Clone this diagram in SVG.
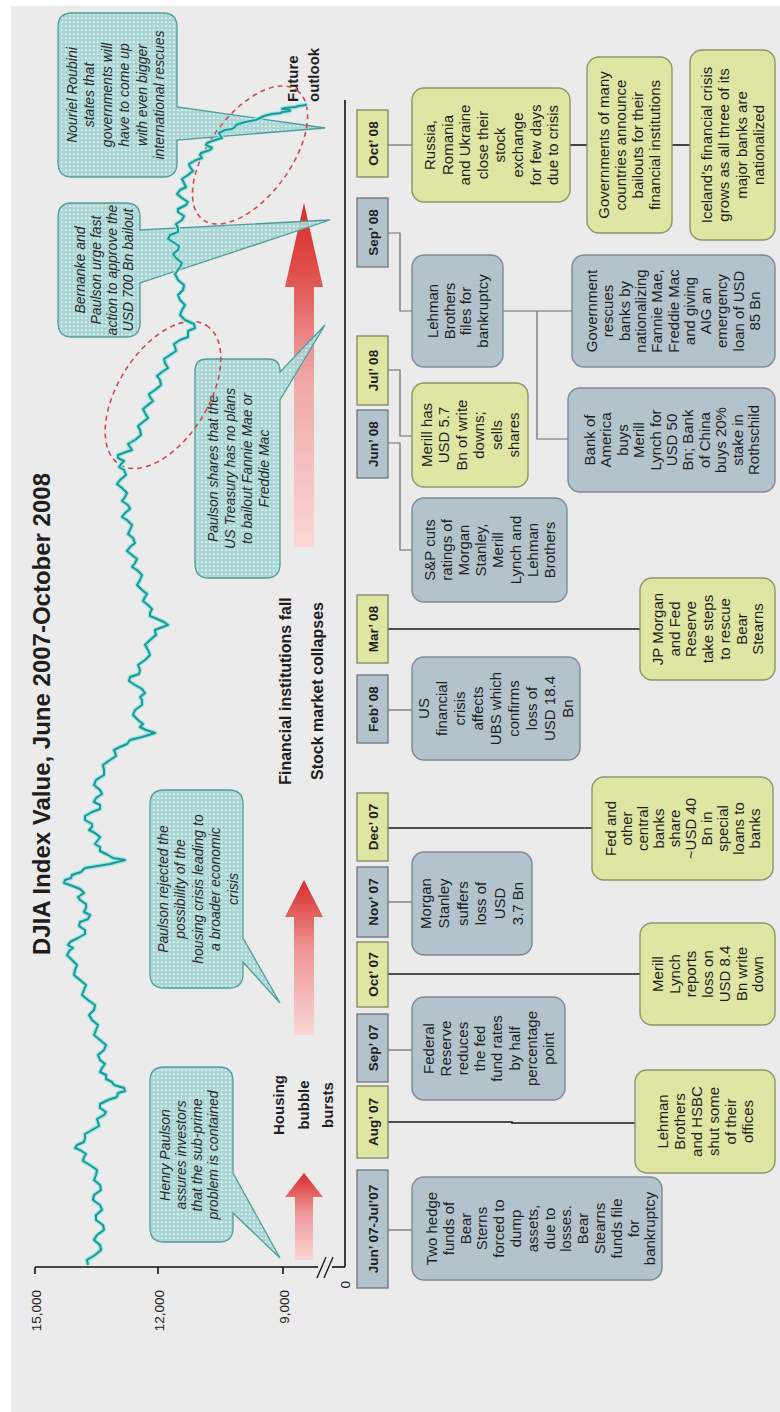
<svg xmlns="http://www.w3.org/2000/svg" width="780" height="1412" viewBox="0 0 780 1412">
<defs>
<style>
.bg{fill:#ebebeb}
.mbl{fill:#b3c3cd;stroke:#6d757a;stroke-width:1.3}
.myl{fill:#dfe6a4;stroke:#7d8560;stroke-width:1.3}
.blue{fill:#b3c3cd;stroke:#7d8a92;stroke-width:1.4}
.yel{fill:#dfe6a4;stroke:#8c9668;stroke-width:1.4}
text{font-family:"Liberation Sans",Arial,sans-serif;fill:#1e1e1e}
.t{font-size:15px;text-anchor:middle}
.m{font-size:13.5px;font-weight:bold;text-anchor:middle}
.c{font-size:14px;font-style:italic;text-anchor:middle;fill:#2a2a2a}
.lab{font-size:15px;font-weight:bold;text-anchor:middle}
.tick{font-size:13.5px;text-anchor:end;fill:#222}
.thin{stroke:#6a6a6a;stroke-width:1.2;fill:none}
.dark{stroke:#1a1a1a;stroke-width:1.6;fill:none}
.call{fill:url(#dots);stroke:#4f9d9b;stroke-width:1.3;fill-opacity:0.9}
.ell{fill:none;stroke:#d24a4a;stroke-width:1.6;stroke-dasharray:5 4}
.axis{stroke:#111;stroke-width:1.6;fill:none}
</style>
<pattern id="dots" width="4" height="4" patternUnits="userSpaceOnUse">
<rect width="4" height="4" fill="#a3d5d4"/>
<rect x="1" y="1" width="1.6" height="1.6" fill="#e6f5f4"/>
</pattern>
<linearGradient id="ar1" x1="0" y1="0" x2="1" y2="0">
<stop offset="0" stop-color="#fbd6d6"/>
<stop offset="0.55" stop-color="#ee9696"/>
<stop offset="1" stop-color="#d62c2a"/>
</linearGradient>
<linearGradient id="ar3" x1="0" y1="0" x2="1" y2="0">
<stop offset="0" stop-color="#fbd6d6"/>
<stop offset="0.5" stop-color="#f0a6a6"/>
<stop offset="0.8" stop-color="#e04e4c"/>
<stop offset="1" stop-color="#d62c2a"/>
</linearGradient>
</defs>
<rect x="11" y="6" width="769" height="1406" class="bg"/>
<g transform="matrix(0 -1 1 0 0 1412)">

<text x="698" y="50" style="font-size:24px;font-weight:bold;text-anchor:middle">DJIA Index Value, June 2007-October 2008</text>

<g id="axes">
<line class="axis" x1="145" y1="35" x2="145" y2="318"/>
<line class="axis" x1="145" y1="332" x2="145" y2="345"/>
<line class="axis" x1="145" y1="345" x2="1312" y2="345"/>
<line class="axis" x1="138" y1="35" x2="145" y2="35"/>
<line class="axis" x1="138" y1="158" x2="145" y2="158"/>
<line class="axis" x1="138" y1="283" x2="145" y2="283"/>
<line stroke="#111" stroke-width="1.3" x1="134" y1="317" x2="155" y2="326"/>
<line stroke="#111" stroke-width="1.3" x1="134" y1="324" x2="155" y2="333"/>
<text class="tick" x="122" y="41">15,000</text>
<text class="tick" x="122" y="164">12,000</text>
<text class="tick" x="122" y="289">9,000</text>
<text class="tick" x="131" y="350">0</text>
</g>

<g id="arrows">
<polygon fill="url(#ar1)" points="152,295 215,295 215,285 239,304 215,323 215,313 152,313"/>
<polygon fill="url(#ar1)" points="377,294 495,294 495,285 532,304 495,323 495,314 377,314"/>
<polygon fill="url(#ar3)" points="865,294 1125,294 1125,285 1209,304 1125,323 1125,314 865,314"/>
</g>

<g id="labels">
<text class="lab" x="307"><tspan x="307" y="284">Housing</tspan><tspan x="307" y="309">bubble</tspan><tspan x="307" y="333">bursts</tspan></text>
<text class="lab" x="721" y="291" style="font-size:16px">Financial institutions fall</text>
<text class="lab" x="721" y="323" style="font-size:16px">Stock market collapses</text>
<text class="lab" x="1310" y="298" style="text-anchor:start">Future</text>
<text class="lab" x="1310" y="319" style="text-anchor:start">outlook</text>
</g>

<g id="callouts">
<g id="callout-paulson-1">
<path class="call" d="M184,150 H331 Q345,150 345,164 V219 Q345,233 331,233 H239 L154,280 L199,233 H184 Q170,233 170,219 V164 Q170,150 184,150 Z"/>
<text class="c"><tspan x="257" y="169.5">Henry Paulson</tspan><tspan x="257" y="185.5">assures investors</tspan><tspan x="257" y="201.5">that the sub-prime</tspan><tspan x="257" y="217.5">problem is contained</tspan></text>
</g>
<g id="callout-paulson-2">
<path class="call" d="M438,150 H608 Q622,150 622,164 V229 Q622,243 608,243 H474 L409,280 L450,243 H438 Q424,243 424,229 V164 Q424,150 438,150 Z"/>
<text class="c"><tspan x="523" y="167.5">Paulson rejected the</tspan><tspan x="523" y="185">possibility of the</tspan><tspan x="523" y="202.5">housing crisis leading to</tspan><tspan x="523" y="220">a broader economic</tspan><tspan x="523" y="237.5">crisis</tspan></text>
</g>
<g id="callout-paulson-3">
<path class="call" d="M848,195 H1041 Q1053,195 1053,207 V268 Q1053,280 1041,280 H1040 L1087,325 L1012,280 H848 Q834,280 834,266 V209 Q834,195 848,195 Z"/>
<text class="c"><tspan x="943.5" y="217.5">Paulson shares that the</tspan><tspan x="943.5" y="234.8">US Treasury has no plans</tspan><tspan x="943.5" y="252.1">to bailout Fannie Mae or</tspan><tspan x="943.5" y="269.4">Freddie Mac</tspan></text>
</g>
<g id="callout-bernanke">
<path class="call" d="M1089,58 H1195 Q1209,58 1209,72 V126 Q1209,140 1195,140 H1182 L1192,330 L1129,140 H1089 Q1075,140 1075,126 V72 Q1075,58 1089,58 Z"/>
<text class="c"><tspan x="1142" y="84.5">Bernanke and</tspan><tspan x="1142" y="100.5">Paulson urge fast</tspan><tspan x="1142" y="116.5">action to approve the</tspan><tspan x="1142" y="132.5">USD 700 Bn bailout</tspan></text>
</g>
<g id="callout-roubini">
<path class="call" d="M1249,58 H1385 Q1399,58 1399,72 V163 Q1399,177 1385,177 H1305 L1284,325 L1272,177 H1249 Q1235,177 1235,163 V72 Q1235,58 1249,58 Z"/>
<text class="c"><tspan x="1317" y="76.5">Nouriel Roubini</tspan><tspan x="1317" y="94">states that</tspan><tspan x="1317" y="111.5">governments will</tspan><tspan x="1317" y="129">have to come up</tspan><tspan x="1317" y="146.5">with even bigger</tspan><tspan x="1317" y="164">international rescues</tspan></text>
</g>
</g>

<g id="ellipses">
<ellipse class="ell" cx="1017" cy="163" rx="82" ry="45" transform="rotate(32 1017 163)"/>
<ellipse class="ell" cx="1257" cy="250" rx="80" ry="41" transform="rotate(36 1257 250)"/>
</g>

<g id="djia-line">
<polyline fill="none" stroke="#9be6e6" stroke-width="4.5" stroke-linejoin="round" points="147,88 152,87 157,95 162,101 167,100 172,94 177,97 182,104 187,103 192,96 197,96 202,102 207,100 212,93 217,94 222,101 227,100 232,94 237,96 242,97 247,90 251,83 255,84 258,86 262,80 264,75 267,77 270,84 274,85 278,85 282,92 286,99 290,98 293,97 297,104 300,106 304,100 308,100 312,108 315,117 319,118 321,125 324,124 327,114 330,112 333,106 337,106 340,100 344,102 348,105 352,100 357,98 362,104 367,106 372,100 377,94 382,96 387,98 392,92 397,89 402,94 407,95 412,88 417,82 422,84 427,86 432,80 437,74 442,75 447,77 452,72 457,67 462,70 464,73 467,68 470,70 474,78 478,85 482,85 486,79 490,80 493,88 497,90 500,84 504,86 508,86 512,80 515,78 519,84 523,80 527,70 529,64 532,65 534,71 537,72 540,81 544,85 548,110 552,125 554,113 557,108 561,100 565,100 568,95 572,98 575,100 579,95 582,89 585,92 588,92 592,85 596,85 600,92 603,100 607,100 610,94 614,96 618,102 622,100 627,94 632,96 637,104 642,104 647,103 652,110 656,116 660,115 662,114 665,120 668,127 672,130 675,142 679,155 682,146 685,140 688,143 692,138 697,133 702,135 707,142 712,142 715,140 719,145 723,142 727,135 731,129 735,130 738,139 742,140 747,138 752,145 757,150 762,148 767,145 772,150 777,156 782,155 784,160 787,168 790,164 794,155 796,150 799,150 803,152 807,148 811,143 815,145 818,147 822,142 827,137 832,140 837,142 842,137 845,132 849,135 853,137 857,132 861,127 865,130 869,135 874,133 878,128 882,130 887,132 892,127 895,122 899,125 903,130 907,128 911,122 915,125 919,127 924,122 928,117 932,120 937,126 942,124 945,119 949,122 951,124 954,118 957,118 960,126 962,132 965,130 968,128 972,135 977,141 982,140 986,138 990,143 994,148 999,145 1003,143 1007,148 1011,153 1015,150 1018,149 1022,155 1027,161 1032,160 1036,157 1040,162 1044,168 1049,165 1053,164 1057,170 1061,176 1065,175 1068,174 1072,180 1075,188 1079,188 1081,188 1084,195 1088,194 1092,185 1097,180 1102,182 1107,185 1112,180 1117,178 1122,183 1127,184 1132,178 1138,175 1145,180 1149,182 1154,176 1158,173 1162,178 1166,179 1170,173 1173,168 1177,170 1180,178 1184,178 1188,176 1192,182 1196,184 1200,178 1203,178 1207,186 1210,188 1214,182 1218,177 1222,180 1225,186 1229,184 1233,182 1237,188 1241,193 1245,190 1248,189 1252,196 1254,202 1257,200 1259,201 1262,210 1264,212 1267,206 1269,207 1272,215 1274,222 1277,220 1279,219 1282,225 1283,232 1285,235 1287,236 1290,245 1292,256 1294,260 1296,264 1298,272 1299,281 1300,282 1301,290 1302,290 1303,282 1304,285 1305,296 1306,298 1307,306 1308,305"/>
<polyline fill="none" stroke="#1f9792" stroke-width="2" stroke-linejoin="round" points="147,88 152,87 157,95 162,101 167,100 172,94 177,97 182,104 187,103 192,96 197,96 202,102 207,100 212,93 217,94 222,101 227,100 232,94 237,96 242,97 247,90 251,83 255,84 258,86 262,80 264,75 267,77 270,84 274,85 278,85 282,92 286,99 290,98 293,97 297,104 300,106 304,100 308,100 312,108 315,117 319,118 321,125 324,124 327,114 330,112 333,106 337,106 340,100 344,102 348,105 352,100 357,98 362,104 367,106 372,100 377,94 382,96 387,98 392,92 397,89 402,94 407,95 412,88 417,82 422,84 427,86 432,80 437,74 442,75 447,77 452,72 457,67 462,70 464,73 467,68 470,70 474,78 478,85 482,85 486,79 490,80 493,88 497,90 500,84 504,86 508,86 512,80 515,78 519,84 523,80 527,70 529,64 532,65 534,71 537,72 540,81 544,85 548,110 552,125 554,113 557,108 561,100 565,100 568,95 572,98 575,100 579,95 582,89 585,92 588,92 592,85 596,85 600,92 603,100 607,100 610,94 614,96 618,102 622,100 627,94 632,96 637,104 642,104 647,103 652,110 656,116 660,115 662,114 665,120 668,127 672,130 675,142 679,155 682,146 685,140 688,143 692,138 697,133 702,135 707,142 712,142 715,140 719,145 723,142 727,135 731,129 735,130 738,139 742,140 747,138 752,145 757,150 762,148 767,145 772,150 777,156 782,155 784,160 787,168 790,164 794,155 796,150 799,150 803,152 807,148 811,143 815,145 818,147 822,142 827,137 832,140 837,142 842,137 845,132 849,135 853,137 857,132 861,127 865,130 869,135 874,133 878,128 882,130 887,132 892,127 895,122 899,125 903,130 907,128 911,122 915,125 919,127 924,122 928,117 932,120 937,126 942,124 945,119 949,122 951,124 954,118 957,118 960,126 962,132 965,130 968,128 972,135 977,141 982,140 986,138 990,143 994,148 999,145 1003,143 1007,148 1011,153 1015,150 1018,149 1022,155 1027,161 1032,160 1036,157 1040,162 1044,168 1049,165 1053,164 1057,170 1061,176 1065,175 1068,174 1072,180 1075,188 1079,188 1081,188 1084,195 1088,194 1092,185 1097,180 1102,182 1107,185 1112,180 1117,178 1122,183 1127,184 1132,178 1138,175 1145,180 1149,182 1154,176 1158,173 1162,178 1166,179 1170,173 1173,168 1177,170 1180,178 1184,178 1188,176 1192,182 1196,184 1200,178 1203,178 1207,186 1210,188 1214,182 1218,177 1222,180 1225,186 1229,184 1233,182 1237,188 1241,193 1245,190 1248,189 1252,196 1254,202 1257,200 1259,201 1262,210 1264,212 1267,206 1269,207 1272,215 1274,222 1277,220 1279,219 1282,225 1283,232 1285,235 1287,236 1290,245 1292,256 1294,260 1296,264 1298,272 1299,281 1300,282 1301,290 1302,290 1303,282 1304,285 1305,296 1306,298 1307,306 1308,305"/>
</g>

<g id="connectors">
<line class="thin" x1="182" y1="388" x2="182" y2="412"/>
<polyline class="dark" points="290,388 290,512 289,512 289,635"/>
<line class="thin" x1="362" y1="388" x2="362" y2="412"/>
<line class="dark" x1="438" y1="388" x2="438" y2="640"/>
<line class="thin" x1="510" y1="388" x2="510" y2="412"/>
<line class="dark" x1="584" y1="388" x2="584" y2="592"/>
<line class="thin" x1="702" y1="388" x2="702" y2="412"/>
<line class="dark" x1="783" y1="388" x2="783" y2="640"/>
<polyline class="thin" points="969,388 969,400 862,400 862,412"/>
<polyline class="thin" points="1042,388 1042,400 976,400 976,412"/>
<polyline class="thin" points="1179,388 1179,400 1101,400 1101,412"/>
<line class="thin" x1="1101" y1="503" x2="1101" y2="572"/>
<polyline class="thin" points="1101,537 973,537 973,568"/>
<line class="thin" x1="1267" y1="388" x2="1267" y2="412"/>
<line class="dark" x1="1267" y1="570" x2="1267" y2="587"/>
<line class="dark" x1="1267" y1="672" x2="1267" y2="690"/>
</g>

<g id="months">
<g id="m-junjul07"><rect class="mbl" x="124" y="357" width="118" height="31"/><text class="m" x="183" y="377.5">Jun’ 07-Jul’07</text></g>
<g id="m-aug07"><rect class="myl" x="254" y="357" width="72" height="31"/><text class="m" x="290" y="377.5">Aug’ 07</text></g>
<g id="m-sep07"><rect class="mbl" x="330" y="357" width="68" height="31"/><text class="m" x="364" y="377.5">Sep’ 07</text></g>
<g id="m-oct07"><rect class="myl" x="405" y="357" width="65" height="31"/><text class="m" x="437.5" y="377.5">Oct’ 07</text></g>
<g id="m-nov07"><rect class="mbl" x="475" y="357" width="70" height="31"/><text class="m" x="510" y="377.5">Nov’ 07</text></g>
<g id="m-dec07"><rect class="myl" x="551" y="357" width="68" height="31"/><text class="m" x="585" y="377.5">Dec’ 07</text></g>
<g id="m-feb08"><rect class="mbl" x="669" y="357" width="68" height="31"/><text class="m" x="703" y="377.5">Feb’ 08</text></g>
<g id="m-mar08"><rect class="myl" x="749" y="357" width="68" height="31"/><text class="m" x="783" y="377.5">Mar’ 08</text></g>
<g id="m-jun08"><rect class="mbl" x="934" y="357" width="68" height="31"/><text class="m" x="968" y="377.5">Jun’ 08</text></g>
<g id="m-jul08"><rect class="myl" x="1007" y="357" width="69" height="31"/><text class="m" x="1041.5" y="377.5">Jul’ 08</text></g>
<g id="m-sep08"><rect class="mbl" x="1145" y="357" width="69" height="31"/><text class="m" x="1179.5" y="377.5">Sep’ 08</text></g>
<g id="m-oct08"><rect class="myl" x="1235" y="357" width="67" height="31"/><text class="m" x="1268.5" y="377.5">Oct’ 08</text></g>
</g>

<g id="events">
<g id="e-hedge"><rect class="blue" x="132" y="412" width="103" height="250" rx="12"/>
<text class="t"><tspan x="183.5" y="437">Two hedge</tspan><tspan x="183.5" dy="16.8">funds of</tspan><tspan x="183.5" dy="16.8">Bear</tspan><tspan x="183.5" dy="16.8">Sterns</tspan><tspan x="183.5" dy="16.8">forced to</tspan><tspan x="183.5" dy="16.8">dump</tspan><tspan x="183.5" dy="16.8">assets,</tspan><tspan x="183.5" dy="16.8">due to</tspan><tspan x="183.5" dy="16.8">losses.</tspan><tspan x="183.5" dy="16.8">Bear</tspan><tspan x="183.5" dy="16.8">Stearns</tspan><tspan x="183.5" dy="16.8">funds file</tspan><tspan x="183.5" dy="16.8">for</tspan><tspan x="183.5" dy="16.8">bankruptcy</tspan></text></g>

<g id="e-fedres"><rect class="blue" x="312" y="412" width="103" height="153" rx="12"/>
<text class="t"><tspan x="363.5" y="434">Federal</tspan><tspan x="363.5" dy="17.1">Reserve</tspan><tspan x="363.5" dy="17.1">reduces</tspan><tspan x="363.5" dy="17.1">the fed</tspan><tspan x="363.5" dy="17.1">fund rates</tspan><tspan x="363.5" dy="17.1">by half</tspan><tspan x="363.5" dy="17.1">percentage</tspan><tspan x="363.5" dy="17.1">point</tspan></text></g>

<g id="e-morgan"><rect class="blue" x="457" y="412" width="103" height="120" rx="12"/>
<text class="t"><tspan x="508.5" y="431">Morgan</tspan><tspan x="508.5" dy="18.4">Stanley</tspan><tspan x="508.5" dy="18.4">suffers</tspan><tspan x="508.5" dy="18.4">loss of</tspan><tspan x="508.5" dy="18.4">USD</tspan><tspan x="508.5" dy="18.4">3.7 Bn</tspan></text></g>

<g id="e-ubs"><rect class="blue" x="652" y="412" width="103" height="168" rx="12"/>
<text class="t"><tspan x="703.5" y="429">US</tspan><tspan x="703.5" dy="18">financial</tspan><tspan x="703.5" dy="18">crisis</tspan><tspan x="703.5" dy="18">affects</tspan><tspan x="703.5" dy="18">UBS which</tspan><tspan x="703.5" dy="18">confirms</tspan><tspan x="703.5" dy="18">loss of</tspan><tspan x="703.5" dy="18">USD 18.4</tspan><tspan x="703.5" dy="18">Bn</tspan></text></g>

<g id="e-sp"><rect class="blue" x="810" y="412" width="104" height="155" rx="12"/>
<text class="t"><tspan x="862" y="435">S&amp;P cuts</tspan><tspan x="862" dy="17.1">ratings of</tspan><tspan x="862" dy="17.1">Morgan</tspan><tspan x="862" dy="17.1">Stanley,</tspan><tspan x="862" dy="17.1">Merill</tspan><tspan x="862" dy="17.1">Lynch and</tspan><tspan x="862" dy="17.1">Lehman</tspan><tspan x="862" dy="17.1">Brothers</tspan></text></g>

<g id="e-merill57"><rect class="yel" x="925" y="412" width="104" height="116" rx="12"/>
<text class="t"><tspan x="977" y="432">Merill has</tspan><tspan x="977" dy="17.4">USD 5.7</tspan><tspan x="977" dy="17.4">Bn of write</tspan><tspan x="977" dy="17.4">downs;</tspan><tspan x="977" dy="17.4">sells</tspan><tspan x="977" dy="17.4">shares</tspan></text></g>

<g id="e-lehman"><rect class="blue" x="1045" y="412" width="112" height="91" rx="12"/>
<text class="t"><tspan x="1101" y="438">Lehman</tspan><tspan x="1101" dy="16.7">Brothers</tspan><tspan x="1101" dy="16.7">files for</tspan><tspan x="1101" dy="16.7">bankruptcy</tspan></text></g>

<g id="e-russia"><rect class="yel" x="1210" y="412" width="114" height="158" rx="12"/>
<text class="t"><tspan x="1267" y="435">Russia,</tspan><tspan x="1267" dy="17.6">Romania</tspan><tspan x="1267" dy="17.6">and Ukraine</tspan><tspan x="1267" dy="17.6">close their</tspan><tspan x="1267" dy="17.6">stock</tspan><tspan x="1267" dy="17.6">exchange</tspan><tspan x="1267" dy="17.6">for few days</tspan><tspan x="1267" dy="17.6">due to crisis</tspan></text></g>

<g id="e-hsbc"><rect class="yel" x="239" y="635" width="103" height="140" rx="12"/>
<text class="t"><tspan x="290.5" y="668">Lehman</tspan><tspan x="290.5" dy="17">Brothers</tspan><tspan x="290.5" dy="17">and HSBC</tspan><tspan x="290.5" dy="17">shut some</tspan><tspan x="290.5" dy="17">of their</tspan><tspan x="290.5" dy="17">offices</tspan></text></g>

<g id="e-merill84"><rect class="yel" x="387" y="640" width="102" height="135" rx="12"/>
<text class="t"><tspan x="438" y="663">Merill</tspan><tspan x="438" dy="16.7">Lynch</tspan><tspan x="438" dy="16.7">reports</tspan><tspan x="438" dy="16.7">loss on</tspan><tspan x="438" dy="16.7">USD 8.4</tspan><tspan x="438" dy="16.7">Bn write</tspan><tspan x="438" dy="16.7">down</tspan></text></g>

<g id="e-fed40"><rect class="yel" x="532" y="592" width="103" height="181" rx="12"/>
<text class="t"><tspan x="583.5" y="616">Fed and</tspan><tspan x="583.5" dy="16">other</tspan><tspan x="583.5" dy="16">central</tspan><tspan x="583.5" dy="16">banks</tspan><tspan x="583.5" dy="16">share</tspan><tspan x="583.5" dy="16">~USD 40</tspan><tspan x="583.5" dy="16">Bn in</tspan><tspan x="583.5" dy="16">special</tspan><tspan x="583.5" dy="16">loans to</tspan><tspan x="583.5" dy="16">banks</tspan></text></g>

<g id="e-jpm"><rect class="yel" x="732" y="640" width="102" height="135" rx="12"/>
<text class="t"><tspan x="783" y="663">JP Morgan</tspan><tspan x="783" dy="16.7">and Fed</tspan><tspan x="783" dy="16.7">Reserve</tspan><tspan x="783" dy="16.7">take steps</tspan><tspan x="783" dy="16.7">to rescue</tspan><tspan x="783" dy="16.7">Bear</tspan><tspan x="783" dy="16.7">Stearns</tspan></text></g>

<g id="e-boa"><rect class="blue" x="920" y="568" width="104" height="207" rx="12"/>
<text class="t"><tspan x="972" y="595">Bank of</tspan><tspan x="972" dy="16.4">America</tspan><tspan x="972" dy="16.4">buys</tspan><tspan x="972" dy="16.4">Merill</tspan><tspan x="972" dy="16.4">Lynch for</tspan><tspan x="972" dy="16.4">USD 50</tspan><tspan x="972" dy="16.4">Bn; Bank</tspan><tspan x="972" dy="16.4">of China</tspan><tspan x="972" dy="16.4">buys 20%</tspan><tspan x="972" dy="16.4">stake in</tspan><tspan x="972" dy="16.4">Rothschild</tspan></text></g>

<g id="e-govrescue"><rect class="blue" x="1045" y="572" width="112" height="203" rx="12"/>
<text class="t"><tspan x="1101" y="597">Government</tspan><tspan x="1101" dy="16.3">rescues</tspan><tspan x="1101" dy="16.3">banks by</tspan><tspan x="1101" dy="16.3">nationalizing</tspan><tspan x="1101" dy="16.3">Fannie Mae,</tspan><tspan x="1101" dy="16.3">Freddie Mac</tspan><tspan x="1101" dy="16.3">and giving</tspan><tspan x="1101" dy="16.3">AIG an</tspan><tspan x="1101" dy="16.3">emergency</tspan><tspan x="1101" dy="16.3">loan of USD</tspan><tspan x="1101" dy="16.3">85 Bn</tspan></text></g>

<g id="e-govbailout"><rect class="yel" x="1179" y="587" width="176" height="85" rx="12"/>
<text class="t"><tspan x="1267" y="609">Governments of many</tspan><tspan x="1267" dy="17">countries announce</tspan><tspan x="1267" dy="17">bailouts for their</tspan><tspan x="1267" dy="17">financial institutions</tspan></text></g>

<g id="e-iceland"><rect class="yel" x="1172" y="690" width="190" height="85" rx="12"/>
<text class="t"><tspan x="1267" y="712">Iceland’s financial crisis</tspan><tspan x="1267" dy="17.3">grows as all three of its</tspan><tspan x="1267" dy="17.3">major banks are</tspan><tspan x="1267" dy="17.3">nationalized</tspan></text></g>
</g>

</g>
</svg>
